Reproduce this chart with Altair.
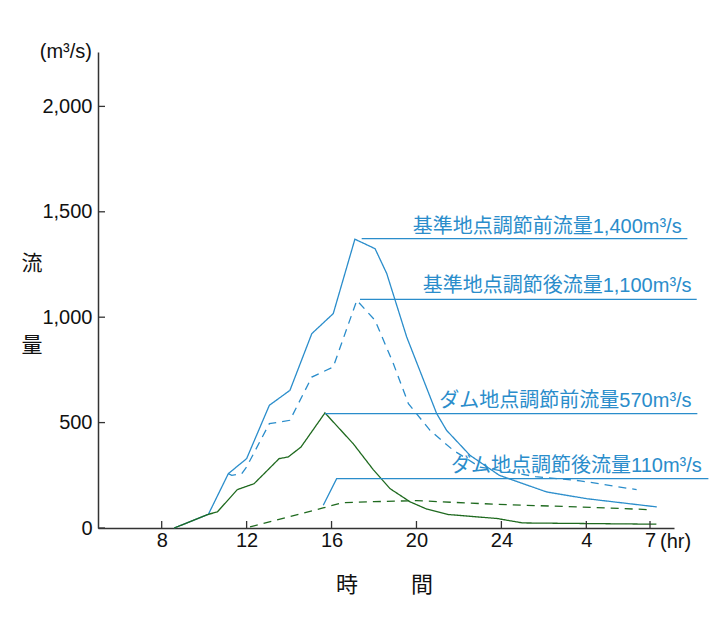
import altair as alt
import pandas as pd

# ---- data ----
series_names = ["基準地点調節前", "基準地点調節後", "ダム地点調節前", "ダム地点調節後"]

bs_hour = [8.59, 10.20, 11.14, 12.00, 13.07, 14.04, 15.07, 16.08, 17.10, 18.05, 18.60, 19.54, 20.95, 21.42, 22.52, 23.90, 26.13, 28.02, 31.32]
bs_flow = [0, 65, 258, 329, 582, 653, 922, 1017, 1370, 1325, 1207, 906, 543, 463, 345, 250, 171, 139, 100]

bd_hour = [11.14, 11.30, 11.77, 12.00, 13.07, 14.04, 15.07, 16.08, 17.19, 18.05, 18.91, 19.62, 20.64, 21.73, 22.99, 25.60, 27.70, 30.37]
bd_flow = [258, 250, 258, 290, 495, 511, 716, 764, 1080, 985, 780, 590, 463, 369, 289, 244, 224, 182]

gs_hour = [8.59, 10.20, 10.62, 11.56, 12.35, 13.53, 13.96, 14.56, 15.69, 17.02, 17.97, 18.75, 19.70, 20.48, 21.50, 23.80, 25.00, 31.30]
gs_flow = [0, 65, 76, 182, 210, 329, 337, 384, 546, 400, 276, 187, 124, 90, 64, 45, 24, 18]

gd_hour = [12.16, 15.60, 16.50, 18.00, 20.00, 22.50, 25.00, 27.70, 31.00]
gd_flow = [5, 95, 120, 125, 130, 118, 108, 100, 87]

leader_id = ["L1", "L1", "L2", "L2", "L3", "L3", "L4", "L4", "L4"]
leader_grp = ["blue", "blue", "blue", "blue", "green", "green", "green", "green", "green"]
leader_hour = [17.42, 32.76, 17.34, 33.20, 15.69, 33.23, 15.61, 16.24, 33.75]
leader_flow = [1373, 1373, 1085, 1085, 543, 543, 108, 234, 234]

label_text = ["基準地点調節前流量1,400m³/s", "基準地点調節後流量1,100m³/s",
              "ダム地点調節前流量570m³/s", "ダム地点調節後流量110m³/s"]
label_grp = ["blue", "blue", "green", "green"]
label_hour = [32.49, 32.96, 32.96, 33.44]
label_flow = [1398, 1119, 574, 266]

x_ticks = [8, 12, 16, 20, 24, 28, 31]
y_ticks = [0, 500, 1000, 1500, 2000]

# ---- tables ----
rows = []
for name, hs, vs in zip(series_names, [bs_hour, bd_hour, gs_hour, gd_hour], [bs_flow, bd_flow, gs_flow, gd_flow]):
    for h, v in zip(hs, vs):
        rows.append({"series": name, "hour": h, "flow": v})
lines_df = pd.DataFrame(rows)
leaders_df = pd.DataFrame({"id": leader_id, "grp": leader_grp, "hour": leader_hour, "flow": leader_flow})
labels_df = pd.DataFrame({"text": label_text, "grp": label_grp, "hour": label_hour, "flow": label_flow})
xt_df = pd.DataFrame({"hour": x_ticks})
yt_df = pd.DataFrame({"flow": y_ticks})

BLUE = "#2a8dcb"
GREEN_LINE = "#1f6a1f"
GREEN_TEXT = "#2a7c2a"
FONT = "Liberation Sans, Noto Sans CJK JP"
AXC = "#333333"

W, H = 576, 476

X = alt.X("hour:Q",
          scale=alt.Scale(domain=[5, 32.13], nice=False, zero=False),
          axis=alt.Axis(values=x_ticks, labelExpr="datum.value > 24 ? datum.value - 24 : datum.value",
                        ticks=False, tickSize=0, grid=False, domainColor=AXC, domainWidth=1.5,
                        labelFontSize=20, labelFont=FONT, labelColor="#111111", labelPadding=2,
                        title=None))
Y = alt.Y("flow:Q",
          scale=alt.Scale(domain=[0, 2258], nice=False),
          axis=alt.Axis(values=y_ticks, format=",.0f", ticks=False, tickSize=0, grid=False,
                        domainColor=AXC, domainWidth=1.5, labelFontSize=20, labelFont=FONT,
                        labelColor="#111111", labelPadding=6, title=None))

lines = alt.Chart(lines_df).mark_line(strokeWidth=1.3).encode(
    x=X, y=Y,
    color=alt.Color("series:N", scale=alt.Scale(domain=series_names,
                                                range=[BLUE, BLUE, GREEN_LINE, GREEN_LINE]), legend=None),
    strokeDash=alt.StrokeDash("series:N", scale=alt.Scale(domain=series_names,
                                                          range=[[1, 0], [8, 6], [1, 0], [8, 6]]), legend=None),
    detail="series:N",
)

leaders = alt.Chart(leaders_df).mark_line(strokeWidth=1.3).encode(
    x=X, y=Y, detail="id:N",
    color=alt.Color("grp:N", scale=alt.Scale(domain=["blue", "green"], range=[BLUE, GREEN_LINE]), legend=None),
)

labels = alt.Chart(labels_df).mark_text(align="right", baseline="alphabetic", fontSize=20, font=FONT).encode(
    x=X, y=Y, text="text:N",
    color=alt.Color("grp:N", scale=alt.Scale(domain=["blue", "green"], range=[BLUE, GREEN_TEXT]), legend=None),
)

xticks = alt.Chart(xt_df).mark_rule(color=AXC, strokeWidth=1.3).encode(
    x=X, y=alt.value(H), y2=alt.value(H - 7))
yticks = alt.Chart(yt_df).mark_rule(color=AXC, strokeWidth=1.3).encode(
    y=Y, x=alt.value(0), x2=alt.value(7))

one = alt.Data(values=[{}])


def note(text, x, y, size=20, align="center"):
    return alt.Chart(one).mark_text(fontSize=size, font=FONT, color="#111111", align=align,
                                    baseline="middle").encode(
        x=alt.value(x), y=alt.value(y), text=alt.value(text))


notes = [
    note("(m³/s)", -6, 0, 20, "right"),
    note("(hr)", 562, 490, 20, "left"),
    note("流", -66, 212, 21),
    note("量", -66, 294, 21),
    note("時", 249, 533, 22),
    note("間", 324, 533, 22),
]

chart = alt.layer(lines, leaders, labels, xticks, yticks, *notes).properties(
    width=W, height=H,
    padding={"left": 98, "top": 52, "right": 46, "bottom": 97},
    autosize=alt.AutoSizeParams(type="none"),
    background="white",
).configure_view(stroke=None)

chart.save("out.html", embed_options={"renderer": "svg", "actions": False})
